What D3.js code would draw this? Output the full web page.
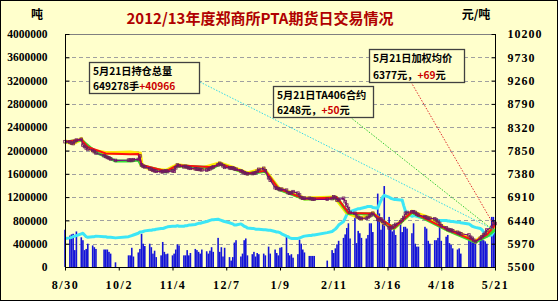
<!DOCTYPE html>
<html>
<head>
<meta charset="utf-8">
<script src="https://cdn.jsdelivr.net/npm/d3@7"></script>
<style>
  body { margin: 0; background: #fff; }
  svg { display: block; }
  .cn { font-family: "Noto Sans CJK SC", sans-serif; font-weight: bold; }
  .num { font-family: "Liberation Serif", serif; font-weight: bold; font-size: 11.5px; fill: #000; }
</style>
</head>
<body>
<svg id="chart" width="558" height="301"></svg>
<script>
// trading calendar: weekdays between start and end, minus exchange holidays
var startDay = '2013-08-30', endDay = '2014-05-21';
var holidays = ['2013-09-19','2013-09-20','2013-10-01','2013-10-02','2013-10-03','2013-10-04','2013-10-07',
    '2014-01-01','2014-01-31','2014-02-03','2014-02-04','2014-02-05','2014-02-06','2014-04-07','2014-05-01','2014-05-02'];

// daily volume, 万手
var volume = [
    64, 54, 56, 57, 29, 61, 51, 46, 29, 31, 40, 37, 34, 31, 30, 30, 30, 26, 23, 8,          // 8/30 - 9/30
    20, 20, 33, 18, 25, 31, 57, 40, 36, 40, 34, 23, 28, 17, 20, 43, 26, 22,                  // Oct
    23, 20, 23, 30, 39, 37, 20, 20, 29, 20, 24, 31, 29, 26, 23, 30, 27, 23, 28, 34, 26,      // Nov
    50, 26, 34, 18, 33, 17, 11, 17, 42, 46, 18, 23, 46, 49, 20, 22, 26, 18, 24, 22, 23, 20,  // Dec
    35, 23, 30, 24, 20, 33, 34, 53, 24, 20, 22, 16, 22, 47, 40, 30, 25, 19, 19, 19, 19,      // Jan
    11, 29, 24, 32, 39, 45, 50, 56, 67, 75, 49, 84, 41, 62, 58, 50,                          // Feb
    49, 55, 75, 75, 60, 126, 92, 64, 80, 139, 86, 64, 61, 66, 55, 81, 60, 69, 69, 66, 58,    // Mar
    75, 40, 35, 35, 69, 66, 45, 40, 46, 46, 50, 69, 45, 52, 55, 41, 38, 32, 30, 32, 23,      // Apr
    49, 46, 44, 44, 40, 46, 49, 46, 44, 40, 86, 86, 75                                       // May
];

// open interest, 万手
var openInterest = [
    49, 50, 51, 52, 53, 54, 57, 58, 55, 52, 51, 52, 52, 53, 52, 52, 51, 51, 51, 50,
    52, 53, 54, 55, 58, 60, 60, 61, 62, 63, 63, 64, 64, 65, 66, 66, 67, 68,
    69, 70, 70, 70, 71, 70, 70, 71, 71, 72, 72, 73, 74, 75, 75, 76, 78, 79, 80, 81, 81,
    82, 81, 80, 79, 78, 76, 75, 74, 72, 72, 74, 72, 70, 69, 67, 66, 66, 65, 65, 65, 64, 64,
    63, 63, 61, 60, 60, 59, 57, 53, 52, 50, 49, 49, 49, 50, 51, 52, 53, 54, 54, 55, 55,
    59, 61, 63, 65, 68, 72, 78, 84, 90, 94, 95, 98, 99, 100, 100, 101,
    103, 104, 104, 104, 102, 101, 108, 114, 120, 123, 120, 118, 117, 116, 116, 115, 115, 105, 96, 92, 87,
    88, 88, 87, 86, 84, 84, 83, 82, 81, 80, 80, 80, 80, 80, 79, 79, 78, 78, 77, 77, 76,
    74, 72, 70, 69, 68, 66, 64, 60, 56, 53, 55, 60, 64.9278
];

// daily price with markers, 元/吨
var price = [
    8028, 8020, 8000, 7990, 8030, 8060, 8076, 7960, 7930, 7900, 7880, 7850, 7826, 7800, 7745, 7730, 7710, 7700, 7680, 7650,
    7655, 7660, 7650, 7665, 7670, 7740, 7560, 7530, 7520, 7480, 7470, 7450, 7440, 7430, 7425, 7420, 7430, 7440,
    7425, 7440, 7430, 7500, 7557, 7540, 7520, 7530, 7510, 7500, 7490, 7480, 7475, 7470, 7465, 7460, 7456, 7470, 7480, 7500, 7520,
    7560, 7590, 7570, 7540, 7510, 7500, 7490, 7500, 7480, 7470, 7440, 7420, 7400, 7389, 7380, 7385, 7389, 7400, 7430, 7470, 7490, 7440,
    7300, 7250, 7100, 7087, 7080, 7060, 7070, 7050, 7000, 6987, 7000, 7020, 6990, 6952, 6900, 6886, 6890, 6886, 6880, 6870, 6866,
    6866, 6880, 6918, 6900, 6850, 6860, 6886, 6818, 6750, 6680, 6600, 6583, 6530, 6500, 6483, 6480,
    6483, 6500, 6530, 6549, 6583, 6460, 6448, 6470, 6420, 6381, 6290, 6280, 6300, 6330, 6360, 6414, 6450, 6500, 6583, 6600, 6615,
    6616, 6600, 6570, 6549, 6515, 6500, 6483, 6483, 6470, 6448, 6420, 6380, 6330, 6290, 6260, 6246, 6246, 6230, 6200, 6180, 6170,
    6146, 6100, 6079, 6040, 6011, 6079, 6110, 6146, 6180, 6246, 6300, 6381, 6377
];

// the other price lines, sparse points
var yellowLine = [['2013-08-30',8030],['2013-09-04',8000],['2013-09-09',8076],['2013-09-12',7930],['2013-09-17',7840],
    ['2013-09-24',7800],['2013-09-30',7800],['2013-10-09',7810],['2013-10-15',7790],['2013-10-16',7557],['2013-10-22',7470],
    ['2013-10-31',7440],['2013-11-07',7557],['2013-11-21',7480],['2013-12-03',7590],['2013-12-13',7480],['2013-12-20',7389],
    ['2013-12-30',7480],['2014-01-08',7087],['2014-01-16',6990],['2014-01-24',6880],['2014-02-12',6900],['2014-02-19',6600],
    ['2014-02-28',6480],['2014-03-07',6583],['2014-03-14',6381],['2014-03-20',6290],['2014-03-31',6615],['2014-04-11',6483],
    ['2014-04-22',6246],['2014-04-30',6170],['2014-05-09',6011],['2014-05-16',6180],['2014-05-21',6330]];
var redLine = [['2013-08-30',8028],['2013-09-09',8070],['2013-09-13',7920],['2013-09-24',7790],['2013-10-09',7775],
    ['2013-10-14',7780],['2013-10-16',7560],['2013-10-31',7430],['2013-11-07',7550],['2013-11-29',7510],['2013-12-03',7585],
    ['2013-12-20',7385],['2013-12-31',7440],['2014-01-08',7080],['2014-01-24',6875],['2014-02-13',6900],['2014-02-20',6590],
    ['2014-03-07',6580],['2014-03-20',6285],['2014-03-31',6610],['2014-04-22',6250],['2014-05-09',6020],['2014-05-16',6150],
    ['2014-05-20',6300],['2014-05-21',6377]];
var greenLine = [['2013-08-30',8020],['2013-09-09',8060],['2013-09-18',7810],['2013-09-26',7700],['2013-09-30',7640],
    ['2013-10-09',7640],['2013-10-14',7660],['2013-10-16',7550],['2013-10-31',7420],['2013-11-07',7540],['2013-11-29',7500],
    ['2013-12-03',7580],['2013-12-20',7380],['2013-12-31',7430],['2014-01-08',7070],['2014-01-24',6870],['2014-02-13',6890],
    ['2014-02-20',6580],['2014-03-07',6570],['2014-03-20',6280],['2014-03-31',6600],['2014-04-22',6240],['2014-05-09',6000],
    ['2014-05-16',6120],['2014-05-21',6248]];

var xTickDates = ['2013-08-30','2013-10-02','2013-11-04','2013-12-07','2014-01-09','2014-02-11','2014-03-16','2014-04-18','2014-05-21'];
var xTickLabels = ['8/30','10/2','11/4','12/7','1/9','2/11','3/16','4/18','5/21'];
var leftTicks = [0, 400000, 800000, 1200000, 1600000, 2000000, 2400000, 2800000, 3200000, 3600000, 4000000];
var rightTicks = [5500, 5970, 6440, 6910, 7380, 7850, 8320, 8790, 9260, 9730, 10200];

function drawChart() {
    var parseDay = d3.timeParse('%Y-%m-%d');
    var fmtDay = d3.timeFormat('%Y-%m-%d');

    var holidaySet = new Set(holidays);
    var tradingDays = [];
    for (var d = parseDay(startDay); d <= parseDay(endDay); d = d3.timeDay.offset(d, 1)) {
        var wd = d.getDay();
        if (wd !== 0 && wd !== 6 && !holidaySet.has(fmtDay(d))) tradingDays.push(d);
    }
    if (tradingDays.length !== volume.length) console.error('days ' + tradingDays.length + ' vs ' + volume.length);

    var rows = tradingDays.map((day, i) => ({
        day: day, vol: volume[i] * 10000, oi: openInterest[i] * 10000, price: price[i]
    }));

    var svg = d3.select('#chart');
    var pLeft = 65, pRight = 495, pTop = 34, pBottom = 267;

    var x = d3.scaleTime().domain([parseDay(startDay), parseDay(endDay)]).range([pLeft, pRight]);
    var yL = d3.scaleLinear().domain([0, 4000000]).range([pBottom, pTop]);
    var yR = d3.scaleLinear().domain([5500, 10200]).range([pBottom, pTop]);

    // background + frame
    svg.append('rect').attr('x', 0.5).attr('y', 0.5).attr('width', 557).attr('height', 300)
        .attr('fill', '#FFFFCC').attr('stroke', '#000');

    // gridlines
    svg.append('g').selectAll('line')
        .data(leftTicks.filter(t => t > 0))
        .enter().append('line')
        .attr('x1', pLeft).attr('x2', pRight)
        .attr('y1', d => Math.round(yL(d)) + 0.5).attr('y2', d => Math.round(yL(d)) + 0.5)
        .attr('stroke', d => d === 4000000 ? '#808080' : '#A0A0A0')
        .attr('stroke-dasharray', d => d === 4000000 ? null : '4,3');

    // volume bars
    svg.append('g').selectAll('rect')
        .data(rows)
        .enter().append('rect')
        .attr('x', d => x(d.day) - 0.8)
        .attr('y', d => yL(d.vol))
        .attr('width', 1.6)
        .attr('height', d => pBottom - yL(d.vol))
        .attr('fill', '#1414D8');

    // open interest
    var oiLine = d3.line().x(d => x(d.day)).y(d => yL(d.oi));
    svg.append('path').datum(rows).attr('d', oiLine)
        .attr('fill', 'none').attr('stroke', '#3CE6F6').attr('stroke-width', 3)
        .attr('stroke-linejoin', 'round');

    // price lines
    var sparseLine = d3.line().x(d => x(parseDay(d[0]))).y(d => yR(d[1]));
    svg.append('path').datum(yellowLine).attr('d', sparseLine)
        .attr('fill', 'none').attr('stroke', '#FFE600').attr('stroke-width', 4);
    svg.append('path').datum(greenLine).attr('d', sparseLine)
        .attr('fill', 'none').attr('stroke', '#33DD33').attr('stroke-width', 3);
    svg.append('path').datum(redLine).attr('d', sparseLine)
        .attr('fill', 'none').attr('stroke', '#FF1010').attr('stroke-width', 2);

    var priceLine = d3.line().x(d => x(d.day)).y(d => yR(d.price));
    svg.append('path').datum(rows).attr('d', priceLine)
        .attr('fill', 'none').attr('stroke', '#800080').attr('stroke-width', 1.2);
    svg.append('g').selectAll('rect')
        .data(rows)
        .enter().append('rect')
        .attr('x', d => x(d.day) - 1.3)
        .attr('y', d => yR(d.price) - 1.3)
        .attr('width', 2.6).attr('height', 2.6)
        .attr('fill', 'none').attr('stroke', '#6B1F5A').attr('stroke-width', 0.8);

    // axis lines
    svg.append('line').attr('x1', pLeft + 0.5).attr('x2', pLeft + 0.5).attr('y1', pTop).attr('y2', pBottom)
        .attr('stroke', '#000');
    svg.append('line').attr('x1', pRight + 0.5).attr('x2', pRight + 0.5).attr('y1', pTop).attr('y2', pBottom)
        .attr('stroke', '#000');
    svg.append('line').attr('x1', pLeft).attr('x2', pRight + 1).attr('y1', pBottom + 0.5).attr('y2', pBottom + 0.5)
        .attr('stroke', '#000');

    var axisL = d3.axisLeft(yL).tickValues(leftTicks).tickSizeInner(-4).tickSizeOuter(0).tickPadding(18).tickFormat(d3.format('d'));
    var gL = svg.append('g').attr('transform', 'translate(' + (pLeft + 0.5) + ',0)').call(axisL);
    var axisR = d3.axisRight(yR).tickValues(rightTicks).tickSizeInner(-4).tickSizeOuter(0).tickPadding(12).tickFormat(d3.format('d'));
    var gR = svg.append('g').attr('transform', 'translate(' + (pRight + 0.5) + ',0)').call(axisR);
    var axisB = d3.axisBottom(x).tickValues(xTickDates.map(parseDay)).tickSizeInner(3).tickSizeOuter(0).tickPadding(10)
        .tickFormat((d, i) => xTickLabels[i]);
    var gB = svg.append('g').attr('transform', 'translate(0,' + (pBottom + 0.5) + ')').call(axisB);

    [gL, gR, gB].forEach(g => {
        g.select('.domain').remove();
        g.selectAll('.tick line').attr('stroke', '#000');
        g.selectAll('text').attr('class', 'num').attr('font-family', null).attr('font-size', null);
    });
    gR.selectAll('text').style('letter-spacing', '1px').style('font-size', '12px');
    gB.selectAll('text').style('letter-spacing', '1.5px').style('font-size', '12px');

    // titles
    svg.append('text').attr('class', 'cn').attr('x', 260).attr('y', 24)
        .attr('text-anchor', 'middle').attr('font-size', 15).attr('fill', '#B00000')
        .text('2012/13年度郑商所PTA期货日交易情况');
    svg.append('text').attr('class', 'cn').attr('x', 37).attr('y', 19)
        .attr('text-anchor', 'middle').attr('font-size', 12).text('吨');
    svg.append('text').attr('class', 'cn').attr('x', 476).attr('y', 19)
        .attr('text-anchor', 'middle').attr('font-size', 12).text('元/吨');

    // callouts
    var last = rows[rows.length - 1];
    var lastRed = redLine[redLine.length - 1], lastGreen = greenLine[greenLine.length - 1];
    var leaders = [
        { from: [200, 82], to: [x(last.day) - 2, yL(last.oi)], color: '#33D8E8' },
        { from: [350, 117], to: [x(parseDay(lastGreen[0])) - 2, yR(lastGreen[1])], color: '#33CC33' },
        { from: [411, 82], to: [x(parseDay(lastRed[0])) - 2, yR(lastRed[1])], color: '#E03030' }
    ];
    svg.append('g').selectAll('line')
        .data(leaders)
        .enter().append('line')
        .attr('x1', d => d.from[0]).attr('y1', d => d.from[1])
        .attr('x2', d => d.to[0]).attr('y2', d => d.to[1])
        .attr('stroke', d => d.color).attr('stroke-width', 1).attr('stroke-dasharray', '1.5,1.5');

    var boxes = [
        { x: 89, y: 62, w: 110, h: 31, line1: '5月21日持仓总量', pre: '649278手', up: '+40966', post: '' },
        { x: 273, y: 86, w: 100, h: 31, line1: '5月21日TA406合约', pre: '6248元，', up: '+50', post: '元' },
        { x: 369, y: 49, w: 95, h: 33, line1: '5月21日加权均价', pre: '6377元，', up: '+69', post: '元' }
    ];
    var boxG = svg.append('g').selectAll('g')
        .data(boxes)
        .enter().append('g')
        .attr('transform', d => 'translate(' + d.x + ',' + d.y + ')');
    boxG.append('rect')
        .attr('x', 0.5).attr('y', 0.5).attr('width', d => d.w).attr('height', d => d.h)
        .attr('fill', '#FFFFCC').attr('stroke', '#404040').attr('stroke-width', 1.3);
    boxG.append('text').attr('class', 'cn').attr('font-size', 10.2)
        .attr('x', 4).attr('y', 12.6).text(d => d.line1);
    var l2 = boxG.append('text').attr('class', 'cn').attr('font-size', 10.2)
        .attr('x', 4).attr('y', d => d.h - 3.4);
    l2.append('tspan').text(d => d.pre);
    l2.append('tspan').attr('fill', '#CC0000').text(d => d.up);
    l2.append('tspan').text(d => d.post);
}

drawChart();
</script>
</body>
</html>
